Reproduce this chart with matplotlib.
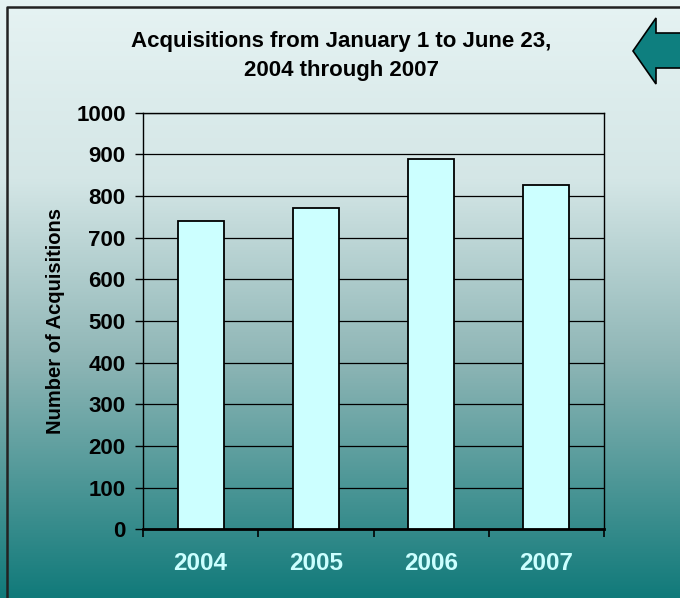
import matplotlib
matplotlib.use("Agg")
import matplotlib.pyplot as plt
import numpy as np
from matplotlib.colors import LinearSegmentedColormap
from matplotlib.patches import Polygon

plt.rcParams["font.family"] = ["Liberation Sans", "DejaVu Sans"]
plt.rcParams["font.weight"] = "bold"

years = ["2004", "2005", "2006", "2007"]
acquisitions = [740, 772, 888, 826]
y_ticks = list(range(0, 1001, 100))

W, H, DPI = 680, 598, 100
fig = plt.figure(figsize=(W / DPI, H / DPI), dpi=DPI)

# background gradient (light at top, teal at bottom)
bg = fig.add_axes([0, 0, 1, 1], zorder=-1)
bg.set_axis_off()
grad = LinearSegmentedColormap.from_list(
    "bg", [(0.0, "#e6f3f3"), (0.3, "#d4e6e6"), (0.6, "#8fb6b6"), (1.0, "#117a7a")]
)
bg.imshow(np.linspace(0, 1, 256).reshape(-1, 1), aspect="auto", cmap=grad,
          extent=[0, 1, 0, 1], origin="upper")
bg.set_xlim(0, 1); bg.set_ylim(0, 1)
# frame border (top and left visible)
bg.plot([7 / W, 7 / W, 1.0], [-0.01, 1 - 7 / H, 1 - 7 / H], color="#222222", lw=1.8)

# back arrow at top right
pts = [(633, 51), (656, 18), (656, 33), (690, 33), (690, 68), (656, 68), (656, 84)]
arrow = Polygon([(x / W, 1 - y / H) for x, y in pts], closed=True,
                facecolor="#0e7f7f", edgecolor="black", lw=1.2, transform=fig.transFigure)
bg.add_patch(arrow)

ax = fig.add_axes([143 / W, (H - 529.3) / H, (604 - 143) / W, (529.3 - 112.7) / H])
ax.set_facecolor("none")

x = np.arange(len(years))
ax.bar(x, acquisitions, width=0.4, color="#ccffff", edgecolor="black", linewidth=1.3, zorder=3)

ax.set_xlim(-0.5, len(years) - 0.5)
ax.set_ylim(0, 1000)
ax.set_yticks(y_ticks)
ax.set_yticklabels([str(t) for t in y_ticks], fontsize=16, fontweight="bold")
ax.grid(axis="y", color="black", linewidth=0.9, zorder=0)
ax.set_axisbelow(True)

ax.set_xticks(np.arange(-0.5, len(years), 1.0))
ax.set_xticklabels([])
ax.set_xticks(x, minor=True)
ax.set_xticklabels(years, minor=True, fontsize=17.5, fontweight="bold", color="#ccffff")
ax.tick_params(axis="x", which="minor", length=0, pad=16)
ax.tick_params(axis="x", which="major", length=6, width=1.2, direction="out")
ax.tick_params(axis="y", length=6, width=1.0, direction="out", pad=6.5)

for side in ("left", "right", "top"):
    ax.spines[side].set_linewidth(1.0)
ax.spines["bottom"].set_linewidth(2.0)

ax.set_ylabel("Number of Acquisitions", fontsize=14.5, fontweight="bold", labelpad=8)

fig.text(341 / W, 1 - 56 / H, "Acquisitions from January 1 to June 23,\n2004 through 2007",
         ha="center", va="center", fontsize=16, fontweight="bold", linespacing=1.45)

fig.savefig("out.png", dpi=DPI)
